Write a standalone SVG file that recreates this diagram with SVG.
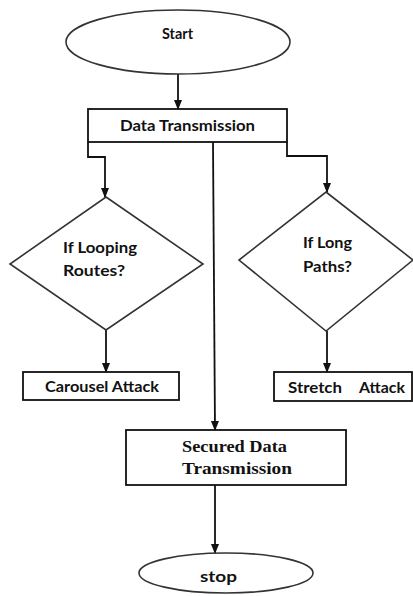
<svg xmlns="http://www.w3.org/2000/svg" width="413" height="596" viewBox="0 0 413 596">
<style>
.shape{fill:#fff;stroke:#333;stroke-width:1.6}
.box{fill:#fff;stroke:#111;stroke-width:1.8}
.conn{fill:none;stroke:#111;stroke-width:1.8}
.t{font-family:Lato,"Liberation Sans",sans-serif;font-weight:bold;font-size:15px;fill:#111}
.s{font-family:"Liberation Serif",serif;font-weight:bold;font-size:17px;fill:#111}
</style>
<defs>
<marker id="ah" markerWidth="10" markerHeight="10" refX="9" refY="5" orient="auto" markerUnits="userSpaceOnUse">
<path d="M0,1 L10,5 L0,9 Z" fill="#111"/>
</marker>
</defs>
<g id="connectors">
<path class="conn" d="M178,74 V109" marker-end="url(#ah)"/>
<path class="conn" d="M88,142 V157 H105 V197" marker-end="url(#ah)"/>
<path class="conn" d="M287,142 V156 H327 V192" marker-end="url(#ah)"/>
<path class="conn" d="M213,142 L215,430" marker-end="url(#ah)"/>
<path class="conn" d="M106,330 V372" marker-end="url(#ah)"/>
<path class="conn" d="M327,331 V372" marker-end="url(#ah)"/>
<path class="conn" d="M215,485 V553" marker-end="url(#ah)"/>
</g>
<g id="start">
<ellipse class="shape" cx="178" cy="42" rx="112" ry="32"/>
<text class="t" x="177.5" y="39" text-anchor="middle" textLength="31" lengthAdjust="spacingAndGlyphs">Start</text>
</g>
<g id="data-transmission">
<rect class="box" x="88" y="109" width="199" height="33"/>
<text class="t" x="187.5" y="131" text-anchor="middle" textLength="135" lengthAdjust="spacingAndGlyphs">Data Transmission</text>
</g>
<g id="if-looping">
<polygon class="shape" points="106,197 203,264 106,330 10,264"/>
<text class="t" x="63" y="253" font-size="16" textLength="74" lengthAdjust="spacingAndGlyphs">If Looping</text>
<text class="t" x="63" y="276" font-size="16" textLength="62" lengthAdjust="spacingAndGlyphs">Routes?</text>
</g>
<g id="if-long">
<polygon class="shape" points="326,192 413,260 326,331 239,260"/>
<text class="t" x="303" y="248" font-size="16" textLength="49" lengthAdjust="spacingAndGlyphs">If Long</text>
<text class="t" x="303" y="272" font-size="16" textLength="49" lengthAdjust="spacingAndGlyphs">Paths?</text>
</g>
<g id="carousel-attack">
<rect class="box" x="23" y="372" width="156" height="28"/>
<text class="t" x="45" y="392" textLength="114" lengthAdjust="spacingAndGlyphs">Carousel Attack</text>
</g>
<g id="stretch-attack">
<rect class="box" x="274" y="372" width="138" height="29"/>
<text class="t" y="393"><tspan x="288" textLength="54" lengthAdjust="spacingAndGlyphs">Stretch</tspan><tspan x="359" textLength="46" lengthAdjust="spacingAndGlyphs">Attack</tspan></text>
</g>
<g id="secured-data-transmission">
<rect class="box" x="126" y="430" width="220" height="55"/>
<text class="s" x="182" y="452" textLength="105" lengthAdjust="spacingAndGlyphs">Secured Data</text>
<text class="s" x="182" y="474" textLength="110" lengthAdjust="spacingAndGlyphs">Transmission</text>
</g>
<g id="stop">
<ellipse class="shape" cx="226" cy="573" rx="87" ry="20"/>
<text class="t" x="218.5" y="582" text-anchor="middle" font-size="16" textLength="37" lengthAdjust="spacingAndGlyphs">stop</text>
</g>
</svg>
